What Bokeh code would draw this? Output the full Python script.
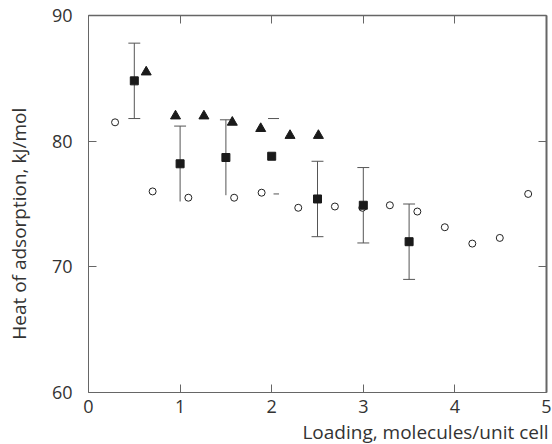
import numpy as np
from bokeh.plotting import figure
from bokeh.models import Range1d, LinearAxis, FixedTicker, Title
from bokeh.embed import file_html
from bokeh.resources import INLINE

# --- data ---
sq_x = [0.5, 1.0, 1.5, 2.0, 2.5, 3.0, 3.5]
sq_y = [84.8, 78.2, 78.7, 78.8, 75.4, 74.9, 72.0]
sq_err = [3.0, 3.0, 3.0, 3.0, 3.0, 3.0, 3.0]
# which caps are drawn: "both", "upper", "caps_only"
sq_style = ["both", "upper", "upper", "caps_only", "both", "both", "both"]

tri_x = [0.63, 0.95, 1.26, 1.57, 1.88, 2.20, 2.51]
tri_y = [85.5, 82.0, 82.0, 81.5, 81.0, 80.45, 80.45]

circ_x = [0.29, 0.70, 1.09, 1.59, 1.89, 2.29, 2.69, 2.99, 3.29, 3.59, 3.89, 4.19, 4.49, 4.80]
circ_y = [81.5, 76.0, 75.5, 75.5, 75.9, 74.7, 74.8, 74.7, 74.9, 74.4, 73.15, 71.85, 72.3, 75.8]

x_ticks = [0, 1, 2, 3, 4, 5]
y_ticks = [60, 70, 80, 90]

FONT = "Open Sans"
AX = "#666666"
TXT = "#333333"

p = figure(width=552, height=444, frame_width=458, frame_height=377,
           x_range=Range1d(0, 5), y_range=Range1d(60, 90),
           output_backend="svg", toolbar_location=None,
           min_border_left=88, min_border_right=6, min_border_top=15, min_border_bottom=52)
p.outline_line_color = None
p.xgrid.visible = False
p.ygrid.visible = False
p.background_fill_color = "white"
p.border_fill_color = "white"

def style_axis(ax, ticks, labels=True):
    ax.ticker = FixedTicker(ticks=ticks)
    ax.axis_line_color = AX
    ax.axis_line_width = 1
    ax.major_tick_line_color = AX
    ax.major_tick_in = 8
    ax.major_tick_out = 0
    ax.minor_tick_line_color = None
    ax.major_label_text_font = FONT
    ax.major_label_text_color = TXT
    ax.major_label_text_font_size = "18px"
    if not labels:
        ax.major_label_overrides = {t: "" for t in ticks}
        ax.major_label_standoff = 0
        ax.major_label_text_font_size = "12px"

style_axis(p.xaxis[0], x_ticks)
p.xaxis[0].major_label_standoff = 7

style_axis(p.yaxis[0], y_ticks)
p.yaxis[0].major_label_standoff = 16
# trailing no-break spaces shift the centred label toward the bottom, as in the reference
p.yaxis[0].axis_label = "Heat of adsorption, kJ/mol" + "\u00a0" * 8
p.yaxis[0].axis_label_standoff = 17
p.yaxis[0].axis_label_text_font = FONT
p.yaxis[0].axis_label_text_font_size = "19px"
p.yaxis[0].axis_label_text_font_style = "normal"
p.yaxis[0].axis_label_text_color = TXT

top = LinearAxis()
style_axis(top, x_ticks, labels=False)
top.axis_line_width = 1.5
p.add_layout(top, "above")
right = LinearAxis()
style_axis(right, y_ticks, labels=False)
right.axis_line_width = 2
p.add_layout(right, "right")

p.add_layout(Title(text="Loading, molecules/unit cell", align="right", offset=-2,
                   text_font=FONT, text_font_size="19px", text_font_style="normal",
                   text_color=TXT, standoff=2), "below")

# error bars
ERR_C = "#555555"
cap = 0.065
vx, vy0, vy1 = [], [], []
cx0, cx1, cy = [], [], []
for x, y, e, s in zip(sq_x, sq_y, sq_err, sq_style):
    if s == "caps_only":
        cx0 += [x - 0.04, x + 0.02]
        cx1 += [x + 0.08, x + 0.08]
        cy += [y + e, y - e]
        continue
    vx.append(x); vy0.append(y - e); vy1.append(y + e)
    cx0.append(x - cap); cx1.append(x + cap); cy.append(y + e)
    if s == "both":
        cx0.append(x - cap); cx1.append(x + cap); cy.append(y - e)
p.segment(x0=vx, y0=vy0, x1=vx, y1=vy1, line_color=ERR_C, line_width=1)
p.segment(x0=cx0, y0=cy, x1=cx1, y1=cy, line_color=ERR_C, line_width=1)

p.scatter(circ_x, circ_y, marker="circle", size=7, fill_color="white",
          line_color="#222222", line_width=1)
p.scatter(sq_x, sq_y, marker="square", size=8, fill_color="#1a1a1a", line_color="#1a1a1a")
p.scatter(tri_x, tri_y, marker="triangle", size=10, fill_color="#1a1a1a", line_color="#1a1a1a")

open("out.html", "w").write(file_html(p, INLINE))
